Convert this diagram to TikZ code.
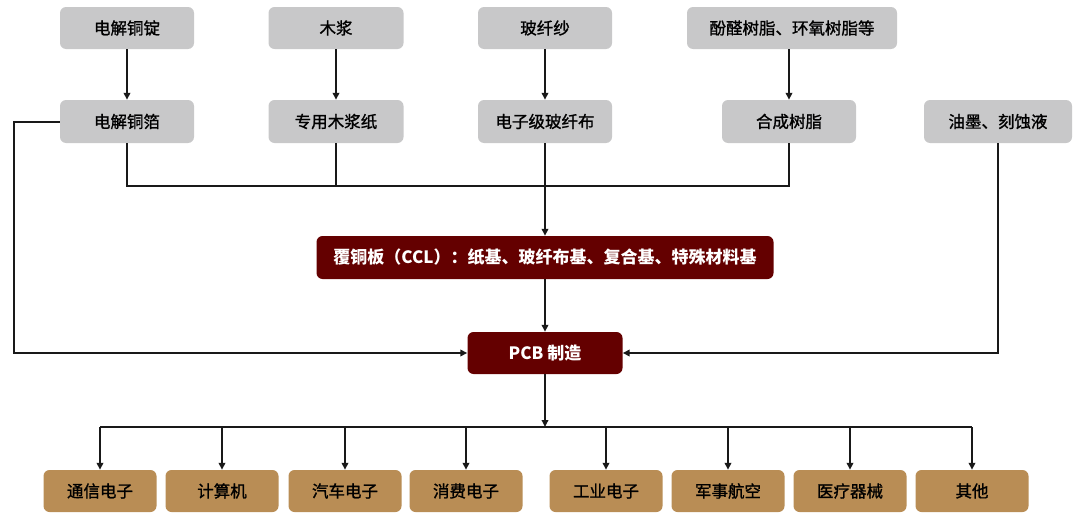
\documentclass[tikz,border=0pt]{standalone}
\usepackage{fontspec}
\setmainfont{Noto Sans CJK SC}
\newfontfamily\cjkheavy[FakeBold=1.2]{Noto Sans CJK SC}
\usetikzlibrary{arrows.meta}
\definecolor{boxgray}{HTML}{C8C8C9}
\definecolor{darkred}{HTML}{640000}
\definecolor{tanbox}{HTML}{B98D55}
\begin{document}
\begin{tikzpicture}[x=1pt,y=-1pt,
  base/.style={rounded corners=6pt, inner sep=0pt, minimum height=42pt, font=\cjkheavy\fontsize{16.5}{16.5}\selectfont},
  graybox/.style={base, fill=boxgray, text=black},
  redbox/.style={base, fill=darkred, text=white, font=\fontsize{17}{17}\selectfont\bfseries},
  tanbox/.style={base, fill=tanbox, text=black, minimum width=113pt},
  link/.style={line width=1.7pt, draw=black!90},
  arr/.style={link, -{Triangle[length=7pt,width=6.5pt]}}]
\useasboundingbox (0,0) rectangle (1080,522);
% top row
\node[graybox, minimum width=134pt] (a1) at (127,28) {电解铜锭};
\node[graybox, minimum width=135pt] (a2) at (336,28) {木浆};
\node[graybox, minimum width=134pt] (a3) at (545,28) {玻纤纱};
\node[graybox, minimum width=210pt] (a4) at (792,28) {酚醛树脂、环氧树脂等};
% second row
\node[graybox, minimum width=134pt, minimum height=43pt] (b1) at (127,121.5) {电解铜箔};
\node[graybox, minimum width=135pt, minimum height=43pt] (b2) at (336,121.5) {专用木浆纸};
\node[graybox, minimum width=134pt, minimum height=43pt] (b3) at (545,121.5) {电子级玻纤布};
\node[graybox, minimum width=134pt, minimum height=43pt] (b4) at (789,121.5) {合成树脂};
\node[graybox, minimum width=148pt, minimum height=43pt] (b5) at (998,121.5) {油墨、刻蚀液};
% red boxes
\node[redbox, minimum width=457pt, minimum height=43pt] (ccl) at (545,257.5) {覆铜板（CCL）：纸基、玻纤布基、复合基、特殊材料基};
\node[redbox, minimum width=155pt] (pcb) at (545,353) {PCB 制造};
% bottom row
\node[tanbox] (c1) at (100,491) {通信电子};
\node[tanbox] (c2) at (222,491) {计算机};
\node[tanbox] (c3) at (345,491) {汽车电子};
\node[tanbox] (c4) at (466,491) {消费电子};
\node[tanbox] (c5) at (606,491) {工业电子};
\node[tanbox] (c6) at (728,491) {军事航空};
\node[tanbox] (c7) at (850,491) {医疗器械};
\node[tanbox] (c8) at (972,491) {其他};
% connectors
\draw[arr] (a1) -- (b1);
\draw[arr] (a2) -- (b2);
\draw[arr] (a3) -- (b3);
\draw[arr] (a4.south -| b4.north) -- (b4.north);
\coordinate (j) at (545,186);
\draw[link] (b1.south) |- (j);
\draw[link] (b4.south) |- (j);
\draw[link] (b2.south) -- (b2.south |- j);
\draw[arr] (b3.south) -- (ccl.north);
\draw[arr] (ccl) -- (pcb);
\coordinate (lc) at (14,122);
\draw[arr] (b1.west |- lc) -- (lc) |- (pcb.west);
\draw[arr] (b5.south) |- (pcb.east);
\coordinate (bus) at (545,427);
\draw[arr] (pcb.south) -- (bus);
\draw[link] (c1.north |- bus) -- (c8.north |- bus);
\foreach \c in {c1,c2,c3,c4,c5,c6,c7,c8} {
  \draw[arr] (\c.north |- bus) -- (\c.north);
}
\end{tikzpicture}
\end{document}
